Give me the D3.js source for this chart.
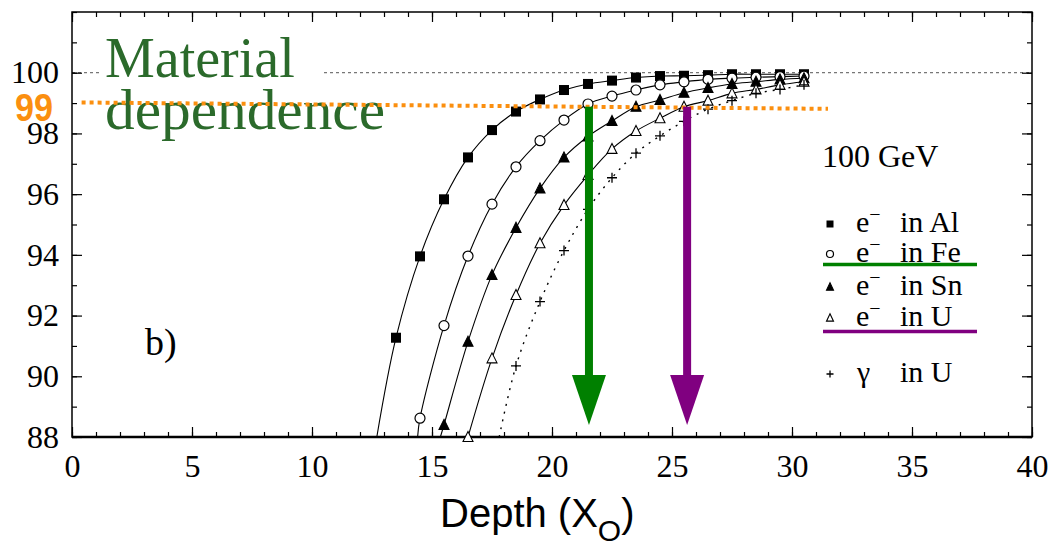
<!DOCTYPE html>
<html>
<head>
<meta charset="utf-8">
<script src="https://cdnjs.cloudflare.com/ajax/libs/d3/7.8.5/d3.min.js"></script>
<style>
  body { margin: 0; background: #fff; }
</style>
</head>
<body>
<div id="chart"></div>
<script>
// depth in radiation lengths, containment in %
const alDepth = [13.5, 14.5, 15.5, 16.5, 17.5, 18.5, 19.5, 20.5, 21.5, 22.5, 23.5, 24.5, 25.5, 26.5, 27.5, 28.5, 29.5, 30.5];
const alValue = [91.27, 93.95, 95.83, 97.21, 98.11, 98.72, 99.12, 99.43, 99.63, 99.74, 99.84, 99.89, 99.90, 99.92, 99.95, 99.95, 99.95, 99.95];

const feDepth = [14.5, 15.5, 16.5, 17.5, 18.5, 19.5, 20.5, 21.5, 22.5, 23.5, 24.5, 25.5, 26.5, 27.5, 28.5, 29.5, 30.5];
const feValue = [88.62, 91.67, 93.96, 95.67, 96.90, 97.76, 98.44, 98.97, 99.23, 99.43, 99.60, 99.70, 99.78, 99.82, 99.85, 99.87, 99.89];

const snDepth = [15.5, 16.5, 17.5, 18.5, 19.5, 20.5, 21.5, 22.5, 23.5, 24.5, 25.5, 26.5, 27.5, 28.5, 29.5, 30.5];
const snValue = [88.40, 91.14, 93.34, 94.89, 96.19, 97.21, 97.90, 98.41, 98.88, 99.10, 99.34, 99.50, 99.63, 99.70, 99.78, 99.82];

const uDepth = [16.5, 17.5, 18.5, 19.5, 20.5, 21.5, 22.5, 23.5, 24.5, 25.5, 26.5, 27.5, 28.5, 29.5, 30.5];
const uValue = [88.0, 90.59, 92.68, 94.38, 95.64, 96.63, 97.49, 98.08, 98.50, 98.88, 99.08, 99.32, 99.45, 99.60, 99.70];

const gDepth = [18.5, 19.5, 20.5, 21.5, 22.5, 23.5, 24.5, 25.5, 26.5, 27.5, 28.5, 29.5, 30.5];
const gValue = [90.34, 92.46, 94.14, 95.50, 96.54, 97.35, 97.92, 98.40, 98.80, 99.08, 99.32, 99.45, 99.60];

// where each fitted curve leaves the bottom of the frame (88 %)
const curveStart = [12.7, 14.4, 15.35, null, 17.8];

const seriesNames = ["Al", "Fe", "Sn", "U", "U"];
const seriesSymbols = ["square", "circle", "triangle", "triangleOpen", "plus"];

const xTicks = [0, 5, 10, 15, 20, 25, 30, 35, 40];
const yTicks = [88, 90, 92, 94, 96, 98, 100];

// 99 % reference line (slightly tilted in the original) and arrows
const refDepth = [0.4, 31.5];
const refValue = [99.02, 98.81];
const arrowDepth = [21.54, 25.63];
const arrowTop = [98.88, 98.88];
const arrowColor = ["#008000", "#800080"];

const width = 1049, height = 549;
const plotL = 72, plotR = 1032, plotT = 12, plotB = 437;

const svg = d3.select("#chart").append("svg")
  .attr("width", width)
  .attr("height", height);

const x = d3.scaleLinear().domain([0, 40]).range([plotL, plotR]);
const y = d3.scaleLinear().domain([88, 102]).range([plotB, plotT]);

svg.append("defs").append("clipPath").attr("id", "plotclip")
  .append("rect").attr("x", plotL).attr("y", plotT)
  .attr("width", plotR - plotL).attr("height", plotB - plotT);

// 100 % dashed guide
svg.append("line")
  .attr("x1", x(0)).attr("x2", x(40))
  .attr("y1", y(100)).attr("y2", y(100))
  .attr("stroke", "#555").attr("stroke-width", 1)
  .attr("stroke-dasharray", "3,3");

// axes, ticks inward on all four sides
const serif = "'Liberation Serif', 'Times New Roman', serif";

function styleAxis(g) {
  g.select(".domain").remove();
  g.attr("font-family", serif);
  g.selectAll("line").attr("stroke", "#000").attr("stroke-width", 1.2);
}

svg.append("g").attr("transform", `translate(0,${plotB})`)
  .call(d3.axisBottom(x).tickValues(d3.range(0, 41)).tickSize(-5).tickFormat(""))
  .call(styleAxis);
svg.append("g").attr("transform", `translate(0,${plotB})`)
  .call(d3.axisBottom(x).tickValues(xTicks).tickSize(-10).tickPadding(17))
  .call(styleAxis)
  .call(g => g.selectAll("text").style("font-family", serif).attr("font-size", 32).attr("fill", "#000"));
svg.append("g").attr("transform", `translate(0,${plotT})`)
  .call(d3.axisTop(x).tickValues(d3.range(0, 41)).tickSize(-5).tickFormat(""))
  .call(styleAxis);
svg.append("g").attr("transform", `translate(0,${plotT})`)
  .call(d3.axisTop(x).tickValues(xTicks).tickSize(-10).tickFormat(""))
  .call(styleAxis);

svg.append("g").attr("transform", `translate(${plotL},0)`)
  .call(d3.axisLeft(y).tickValues(d3.range(88, 103)).tickSize(-5).tickFormat(""))
  .call(styleAxis);
svg.append("g").attr("transform", `translate(${plotL},0)`)
  .call(d3.axisLeft(y).tickValues(yTicks).tickSize(-10).tickPadding(13))
  .call(styleAxis)
  .call(g => g.selectAll("text").style("font-family", serif).attr("font-size", 32).attr("fill", "#000"));
svg.append("g").attr("transform", `translate(${plotR},0)`)
  .call(d3.axisRight(y).tickValues(d3.range(88, 103)).tickSize(-5).tickFormat(""))
  .call(styleAxis);
svg.append("g").attr("transform", `translate(${plotR},0)`)
  .call(d3.axisRight(y).tickValues(yTicks.concat([102])).tickSize(-10).tickFormat(""))
  .call(styleAxis);

svg.append("rect")
  .attr("x", plotL).attr("y", plotT)
  .attr("width", plotR - plotL).attr("height", plotB - plotT)
  .attr("fill", "none").attr("stroke", "#000").attr("stroke-width", 1.5);
svg.append("line")
  .attr("x1", plotL).attr("x2", plotR).attr("y1", plotB).attr("y2", plotB)
  .attr("stroke", "#000").attr("stroke-width", 2.5);

// curves and markers
const allDepth = [alDepth, feDepth, snDepth, uDepth, gDepth];
const allValue = [alValue, feValue, snValue, uValue, gValue];

const line = d3.line()
  .x(d => x(d[0])).y(d => y(d[1]))
  .curve(d3.curveCatmullRom.alpha(0.5));

const curves = svg.append("g").attr("clip-path", "url(#plotclip)");
allDepth.forEach((dep, i) => {
  let pts = dep.map((d, j) => [d, allValue[i][j]]);
  if (curveStart[i] !== null) pts = [[curveStart[i], 88]].concat(pts);
  curves.append("path")
    .attr("d", line(pts))
    .attr("fill", "none")
    .attr("stroke", "#000")
    .attr("stroke-width", i === 4 ? 1.4 : 1.1)
    .attr("stroke-dasharray", i === 4 ? "2,6" : null);
});

function drawSymbol(g, kind, cx, cy, s) {
  if (kind === "square") {
    g.append("rect").attr("x", cx - s / 2).attr("y", cy - s / 2)
      .attr("width", s).attr("height", s).attr("fill", "#000");
  } else if (kind === "circle") {
    g.append("circle").attr("cx", cx).attr("cy", cy).attr("r", s / 2)
      .attr("fill", "#fff").attr("stroke", "#000").attr("stroke-width", 1.2);
  } else if (kind === "triangle" || kind === "triangleOpen") {
    const h = s * 0.9;
    g.append("path")
      .attr("d", `M${cx},${cy - h / 2 - 1}L${cx + s / 2},${cy + h / 2}L${cx - s / 2},${cy + h / 2}Z`)
      .attr("fill", kind === "triangle" ? "#000" : "#fff")
      .attr("stroke", "#000").attr("stroke-width", 1.1);
  } else {
    g.append("path")
      .attr("d", `M${cx - s / 2},${cy}H${cx + s / 2}M${cx},${cy - s / 2}V${cy + s / 2}`)
      .attr("stroke", "#000").attr("stroke-width", 1.3);
  }
}

const marks = svg.append("g");
allDepth.forEach((dep, i) => {
  dep.forEach((d, j) => {
    drawSymbol(marks, seriesSymbols[i], x(d), y(allValue[i][j]), 10);
  });
});

// labels
svg.append("text")
  .attr("x", 145).attr("y", 355)
  .attr("font-family", serif).attr("font-size", 38)
  .text("b)");

svg.append("text")
  .attr("x", 822).attr("y", 167)
  .attr("font-family", serif).attr("font-size", 32)
  .text("100 GeV");

const legendBase = [232, 262, 295, 326, 382];
const legend = svg.append("g");
seriesNames.forEach((name, i) => {
  const by = legendBase[i];
  drawSymbol(legend, seriesSymbols[i], 830, by - 8, 7);
  if (i < 4) {
    const t = legend.append("text").attr("x", 856).attr("y", by)
      .attr("font-family", serif).attr("font-size", 30);
    t.append("tspan").text("e");
    t.append("tspan").attr("dy", -11).attr("font-size", 20).text("\u2212");
  } else {
    legend.append("text").attr("x", 857).attr("y", by)
      .attr("font-family", serif).attr("font-size", 30).text("\u03b3");
  }
  legend.append("text").attr("x", 900).attr("y", by)
    .attr("font-family", serif).attr("font-size", 30)
    .text("in " + name);
});
legend.append("line").attr("x1", 823).attr("x2", 977).attr("y1", 264.5).attr("y2", 264.5)
  .attr("stroke", arrowColor[0]).attr("stroke-width", 3.5);
legend.append("line").attr("x1", 823).attr("x2", 977).attr("y1", 331.5).attr("y2", 331.5)
  .attr("stroke", arrowColor[1]).attr("stroke-width", 3.5);

// title block with its white backing
svg.append("rect").attr("x", 100).attr("y", 30).attr("width", 222).attr("height", 56).attr("fill", "#fff");
svg.append("text")
  .attr("x", 105).attr("y", 77)
  .attr("font-family", serif).attr("font-size", 56)
  .attr("fill", "#2b6a2b")
  .text("Material");
svg.append("text")
  .attr("x", 105).attr("y", 129)
  .attr("font-family", serif).attr("font-size", 56)
  .attr("textLength", 280).attr("lengthAdjust", "spacingAndGlyphs")
  .attr("fill", "#2b6a2b")
  .text("dependence");

// 99 % line
svg.append("line")
  .attr("x1", x(refDepth[0])).attr("y1", y(refValue[0]))
  .attr("x2", x(refDepth[1])).attr("y2", y(refValue[1]))
  .attr("stroke", "#fb8f0f").attr("stroke-width", 4)
  .attr("stroke-dasharray", "4,4");
svg.append("text")
  .attr("x", 15).attr("y", 121)
  .attr("font-family", "'Liberation Sans', Arial, sans-serif")
  .attr("font-weight", "bold").attr("font-size", 39)
  .attr("textLength", 38).attr("lengthAdjust", "spacingAndGlyphs")
  .attr("fill", "#fb8f0f")
  .text("99");

// arrows
arrowDepth.forEach((d, i) => {
  const ax = x(d);
  const tip = 425, headTop = 375;
  svg.append("rect")
    .attr("x", ax - 4).attr("y", y(arrowTop[i]))
    .attr("width", 8).attr("height", headTop - y(arrowTop[i]) + 1)
    .attr("fill", arrowColor[i]);
  svg.append("path")
    .attr("d", `M${ax - 17},${headTop}L${ax + 17},${headTop}L${ax},${tip}Z`)
    .attr("fill", arrowColor[i]);
});

// axis title
const xt = svg.append("text")
  .attr("x", 440).attr("y", 527)
  .attr("font-family", "'Liberation Sans', Arial, sans-serif")
  .attr("font-size", 40);
xt.append("tspan").text("Depth (X");
xt.append("tspan").attr("dy", 14).attr("font-size", 30).text("O");
xt.append("tspan").attr("dy", -14).text(")");
</script>
</body>
</html>
